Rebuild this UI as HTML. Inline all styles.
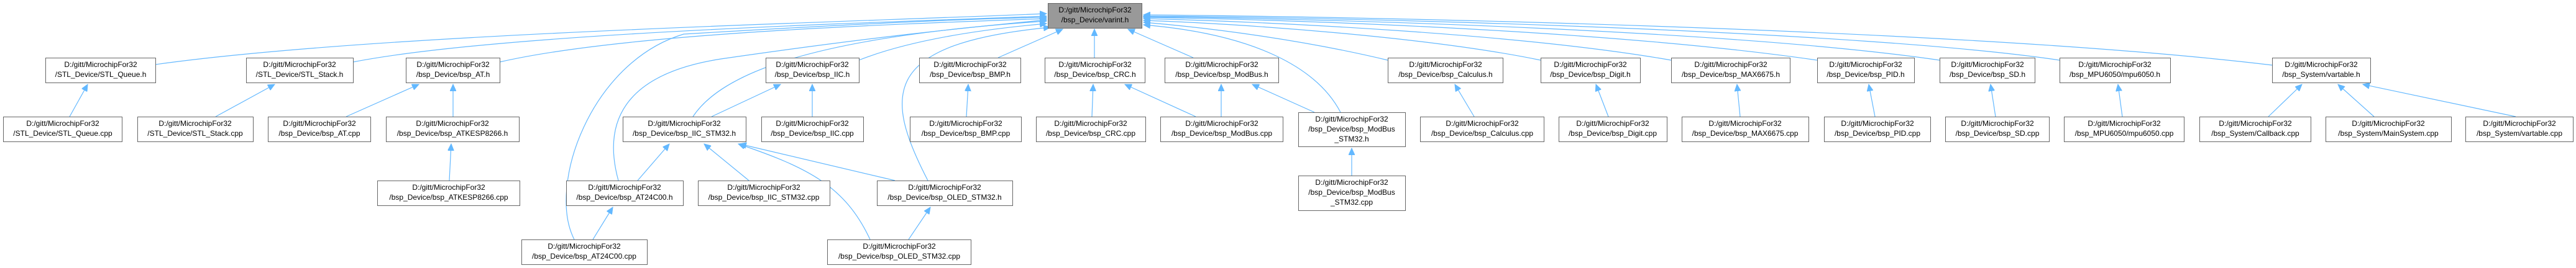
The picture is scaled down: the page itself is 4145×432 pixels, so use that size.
<!DOCTYPE html>
<html><head><meta charset="utf-8"><style>
html,body{margin:0;padding:0;background:#fff;}
svg{display:block;}
text{font-family:"Liberation Sans",Arial,sans-serif;font-size:12px;fill:#000;text-anchor:middle;}
.n{fill:#fff;stroke:#666;stroke-width:1;}
.r{fill:#999;stroke:#666;stroke-width:1;}
.e{fill:none;stroke:#63b8ff;stroke-width:1.2;}
</style></head><body>
<svg width="4145" height="432" viewBox="0 0 4145 432" xmlns="http://www.w3.org/2000/svg">
<defs><marker id="a" markerWidth="12" markerHeight="10" refX="11" refY="5" orient="auto" markerUnits="userSpaceOnUse"><path d="M0,0 L11,5 L0,10 z" fill="#63b8ff" stroke="#63b8ff"/></marker></defs>
<g class="e" marker-end="url(#a)">
<!-- to varint from left -->
<path d="M250,104 C600,55 1300,38 1684,22"/>
<path d="M568,100 C800,55 1350,38 1684,26"/>
<path d="M804,100 C1000,55 1400,40 1684,30"/>
<path d="M1382,97 C1450,70 1550,50 1684,38"/>
<path d="M1115,188 C1160,120 1300,60 1684,34"/>
<path d="M995,291 C970,200 1000,120 1160,95 C1400,60 1550,45 1684,32"/>
<path d="M924,386 C880,300 950,100 1100,55 C1350,40 1550,30 1684,28"/>
<path d="M1493,291 C1420,150 1420,70 1690,44"/>
<path d="M1606,93 L1710,47"/>
<path d="M1761,93 L1761,47"/>
<path d="M1920,93 L1815,47"/>
<path d="M2157,181 C2120,110 2020,55 1840,40"/>
<!-- to varint from right -->
<path d="M2233,97 C2100,65 1950,45 1840,36"/>
<path d="M2479,97 C2300,60 2000,38 1840,33"/>
<path d="M2689,97 C2450,55 2050,35 1840,30"/>
<path d="M2924,97 C2600,50 2100,32 1840,28"/>
<path d="M3121,97 C2800,50 2150,30 1840,27"/>
<path d="M3314,97 C3000,50 2200,28 1840,26"/>
<path d="M3656,105 C3200,50 2300,28 1840,24"/>
<!-- others -->
<path d="M112,188 L141,136"/>
<path d="M347,188 L442,136"/>
<path d="M557,188 L674,136"/>
<path d="M729,188 L729,136"/>
<path d="M723,291 L726,232"/>
<path d="M1145,188 L1256,136"/>
<path d="M1307,188 L1307,136"/>
<path d="M1026,291 L1077,232"/>
<path d="M1205,291 L1133,232"/>
<path d="M1440,291 L1190,232"/>
<path d="M1400,386 C1360,300 1300,270 1188,232"/>
<path d="M954,386 L986,334"/>
<path d="M1462,386 L1497,334"/>
<path d="M1555,188 L1558,136"/>
<path d="M1757,188 L1759,136"/>
<path d="M1924,188 L1810,136"/>
<path d="M1965,188 L1965,136"/>
<path d="M2115,181 L2015,136"/>
<path d="M2175,283 L2175,239"/>
<path d="M2372,188 L2341,136"/>
<path d="M2588,188 L2568,136"/>
<path d="M2800,188 L2795,136"/>
<path d="M3017,188 L3007,136"/>
<path d="M3211,188 L3203,136"/>
<path d="M3415,188 L3408,136"/>
<path d="M3650,188 L3704,136"/>
<path d="M3820,188 L3762,136"/>
<path d="M4048,188 L3802,136"/>
</g>
<!-- nodes -->
<rect class="r" x="1686.5" y="5.5" width="151" height="40"/><text x="1762" y="20">D:/gitt/MicrochipFor32</text><text x="1762" y="36">/bsp_Device/varint.h</text>
<g>
<rect class="n" x="73.5" y="93.5" width="177" height="40"/><text x="162" y="108">D:/gitt/MicrochipFor32</text><text x="162" y="124">/STL_Device/STL_Queue.h</text>
<rect class="n" x="396.5" y="93.5" width="172" height="40"/><text x="482" y="108">D:/gitt/MicrochipFor32</text><text x="482" y="124">/STL_Device/STL_Stack.h</text>
<rect class="n" x="653.5" y="93.5" width="151" height="40"/><text x="729" y="108">D:/gitt/MicrochipFor32</text><text x="729" y="124">/bsp_Device/bsp_AT.h</text>
<rect class="n" x="1232.5" y="93.5" width="150" height="40"/><text x="1307" y="108">D:/gitt/MicrochipFor32</text><text x="1307" y="124">/bsp_Device/bsp_IIC.h</text>
<rect class="n" x="1479.5" y="93.5" width="163" height="40"/><text x="1561" y="108">D:/gitt/MicrochipFor32</text><text x="1561" y="124">/bsp_Device/bsp_BMP.h</text>
<rect class="n" x="1681.5" y="93.5" width="161" height="40"/><text x="1762" y="108">D:/gitt/MicrochipFor32</text><text x="1762" y="124">/bsp_Device/bsp_CRC.h</text>
<rect class="n" x="1874.5" y="93.5" width="183" height="40"/><text x="1966" y="108">D:/gitt/MicrochipFor32</text><text x="1966" y="124">/bsp_Device/bsp_ModBus.h</text>
<rect class="n" x="2233.5" y="93.5" width="185" height="40"/><text x="2326" y="108">D:/gitt/MicrochipFor32</text><text x="2326" y="124">/bsp_Device/bsp_Calculus.h</text>
<rect class="n" x="2479.5" y="93.5" width="160" height="40"/><text x="2559" y="108">D:/gitt/MicrochipFor32</text><text x="2559" y="124">/bsp_Device/bsp_Digit.h</text>
<rect class="n" x="2689.5" y="93.5" width="191" height="40"/><text x="2785" y="108">D:/gitt/MicrochipFor32</text><text x="2785" y="124">/bsp_Device/bsp_MAX6675.h</text>
<rect class="n" x="2924.5" y="93.5" width="156" height="40"/><text x="3002" y="108">D:/gitt/MicrochipFor32</text><text x="3002" y="124">/bsp_Device/bsp_PID.h</text>
<rect class="n" x="3121.5" y="93.5" width="153" height="40"/><text x="3198" y="108">D:/gitt/MicrochipFor32</text><text x="3198" y="124">/bsp_Device/bsp_SD.h</text>
<rect class="n" x="3314.5" y="93.5" width="178" height="40"/><text x="3403" y="108">D:/gitt/MicrochipFor32</text><text x="3403" y="124">/bsp_MPU6050/mpu6050.h</text>
<rect class="n" x="3656.5" y="93.5" width="158" height="40"/><text x="3735" y="108">D:/gitt/MicrochipFor32</text><text x="3735" y="124">/bsp_System/vartable.h</text>

<rect class="n" x="5.5" y="188.5" width="191" height="40"/><text x="101" y="203">D:/gitt/MicrochipFor32</text><text x="101" y="219">/STL_Device/STL_Queue.cpp</text>
<rect class="n" x="221.5" y="188.5" width="186" height="40"/><text x="314" y="203">D:/gitt/MicrochipFor32</text><text x="314" y="219">/STL_Device/STL_Stack.cpp</text>
<rect class="n" x="431.5" y="188.5" width="165" height="40"/><text x="514" y="203">D:/gitt/MicrochipFor32</text><text x="514" y="219">/bsp_Device/bsp_AT.cpp</text>
<rect class="n" x="621.5" y="188.5" width="214" height="40"/><text x="728" y="203">D:/gitt/MicrochipFor32</text><text x="728" y="219">/bsp_Device/bsp_ATKESP8266.h</text>
<rect class="n" x="1002.5" y="188.5" width="198" height="40"/><text x="1101" y="203">D:/gitt/MicrochipFor32</text><text x="1101" y="219">/bsp_Device/bsp_IIC_STM32.h</text>
<rect class="n" x="1225.5" y="188.5" width="164" height="40"/><text x="1307" y="203">D:/gitt/MicrochipFor32</text><text x="1307" y="219">/bsp_Device/bsp_IIC.cpp</text>
<rect class="n" x="1464.5" y="188.5" width="179" height="40"/><text x="1554" y="203">D:/gitt/MicrochipFor32</text><text x="1554" y="219">/bsp_Device/bsp_BMP.cpp</text>
<rect class="n" x="1667.5" y="188.5" width="176" height="40"/><text x="1755" y="203">D:/gitt/MicrochipFor32</text><text x="1755" y="219">/bsp_Device/bsp_CRC.cpp</text>
<rect class="n" x="1867.5" y="188.5" width="197" height="40"/><text x="1966" y="203">D:/gitt/MicrochipFor32</text><text x="1966" y="219">/bsp_Device/bsp_ModBus.cpp</text>
<rect class="n" x="2089.5" y="181.5" width="172" height="55"/><text x="2175" y="196">D:/gitt/MicrochipFor32</text><text x="2175" y="212">/bsp_Device/bsp_ModBus</text><text x="2175" y="228">_STM32.h</text>
<rect class="n" x="2285.5" y="188.5" width="199" height="40"/><text x="2385" y="203">D:/gitt/MicrochipFor32</text><text x="2385" y="219">/bsp_Device/bsp_Calculus.cpp</text>
<rect class="n" x="2508.5" y="188.5" width="174" height="40"/><text x="2595" y="203">D:/gitt/MicrochipFor32</text><text x="2595" y="219">/bsp_Device/bsp_Digit.cpp</text>
<rect class="n" x="2706.5" y="188.5" width="204" height="40"/><text x="2808" y="203">D:/gitt/MicrochipFor32</text><text x="2808" y="219">/bsp_Device/bsp_MAX6675.cpp</text>
<rect class="n" x="2935.5" y="188.5" width="171" height="40"/><text x="3021" y="203">D:/gitt/MicrochipFor32</text><text x="3021" y="219">/bsp_Device/bsp_PID.cpp</text>
<rect class="n" x="3130.5" y="188.5" width="167" height="40"/><text x="3214" y="203">D:/gitt/MicrochipFor32</text><text x="3214" y="219">/bsp_Device/bsp_SD.cpp</text>
<rect class="n" x="3321.5" y="188.5" width="193" height="40"/><text x="3418" y="203">D:/gitt/MicrochipFor32</text><text x="3418" y="219">/bsp_MPU6050/mpu6050.cpp</text>
<rect class="n" x="3539.5" y="188.5" width="179" height="40"/><text x="3629" y="203">D:/gitt/MicrochipFor32</text><text x="3629" y="219">/bsp_System/Callback.cpp</text>
<rect class="n" x="3742.5" y="188.5" width="202" height="40"/><text x="3843" y="203">D:/gitt/MicrochipFor32</text><text x="3843" y="219">/bsp_System/MainSystem.cpp</text>
<rect class="n" x="3967.5" y="188.5" width="173" height="40"/><text x="4054" y="203">D:/gitt/MicrochipFor32</text><text x="4054" y="219">/bsp_System/vartable.cpp</text>

<rect class="n" x="607.5" y="291.5" width="229" height="40"/><text x="722" y="306">D:/gitt/MicrochipFor32</text><text x="722" y="322">/bsp_Device/bsp_ATKESP8266.cpp</text>
<rect class="n" x="911.5" y="291.5" width="188" height="40"/><text x="1005" y="306">D:/gitt/MicrochipFor32</text><text x="1005" y="322">/bsp_Device/bsp_AT24C00.h</text>
<rect class="n" x="1123.5" y="291.5" width="212" height="40"/><text x="1229" y="306">D:/gitt/MicrochipFor32</text><text x="1229" y="322">/bsp_Device/bsp_IIC_STM32.cpp</text>
<rect class="n" x="1411.5" y="291.5" width="218" height="40"/><text x="1520" y="306">D:/gitt/MicrochipFor32</text><text x="1520" y="322">/bsp_Device/bsp_OLED_STM32.h</text>
<rect class="n" x="2089.5" y="283.5" width="172" height="56"/><text x="2175" y="298">D:/gitt/MicrochipFor32</text><text x="2175" y="314">/bsp_Device/bsp_ModBus</text><text x="2175" y="330">_STM32.cpp</text>

<rect class="n" x="839.5" y="386.5" width="202" height="40"/><text x="940" y="401">D:/gitt/MicrochipFor32</text><text x="940" y="417">/bsp_Device/bsp_AT24C00.cpp</text>
<rect class="n" x="1331.5" y="386.5" width="231" height="40"/><text x="1447" y="401">D:/gitt/MicrochipFor32</text><text x="1447" y="417">/bsp_Device/bsp_OLED_STM32.cpp</text>
</g>
</svg>
</body></html>
